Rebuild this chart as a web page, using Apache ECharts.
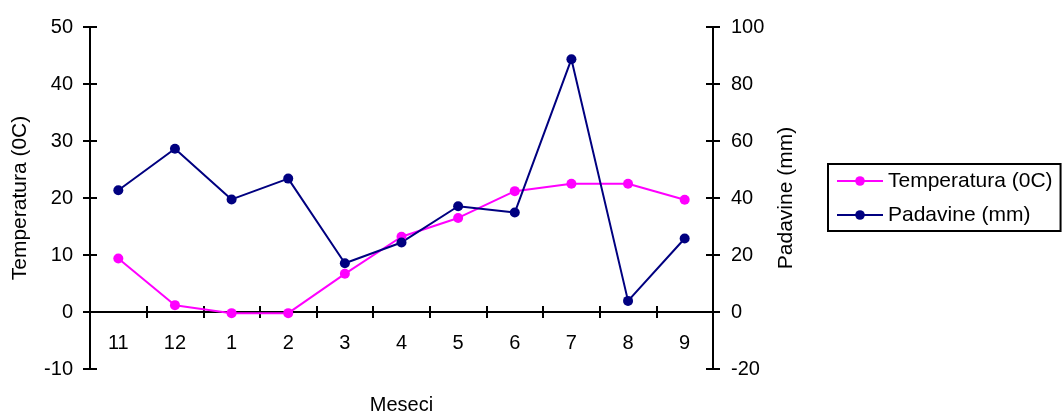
<!DOCTYPE html>
<html>
<head>
<meta charset="utf-8">
<script src="https://cdn.jsdelivr.net/npm/echarts@6/dist/echarts.min.js"></script>
<style>html,body{margin:0;padding:0;background:#fff}#c{width:1062px;height:415px}</style>
</head>
<body>
<div id="c"></div>
<script>
const categories = ['11','12','1','2','3','4','5','6','7','8','9'];
const temperature = [9.4, 1.2, -0.2, -0.2, 6.7, 13.2, 16.5, 21.2, 22.5, 22.5, 19.7];
const precipitation = [42.7, 57.3, 39.5, 46.8, 17.1, 24.4, 37.1, 34.9, 88.7, 3.9, 25.8];
const tempTicks = {min: -10, max: 50, interval: 10};
const precTicks = {min: -20, max: 100, interval: 20};

const FONT = 'Liberation Sans, Arial, sans-serif';
const black = '#000';
const axisLine = {show: true, onZero: false, lineStyle: {color: black, width: 2}};

// grid geometry
const gridTop = 27, gridBottom = 46, chartH = 415;
const plotH = chartH - gridTop - gridBottom;
// place category axis at temperature = 0
const zeroOffset = -plotH * (0 - tempTicks.min) / (tempTicks.max - tempTicks.min);

const chart = echarts.init(document.getElementById('c'));
chart.setOption({
  animation: false,
  backgroundColor: '#fff',
  textStyle: {fontFamily: FONT},
  grid: {left: 90, right: 349, top: gridTop, bottom: gridBottom, containLabel: false, outerBoundsMode: 'none'},
  legend: {
    orient: 'vertical',
    left: 828, top: 164,
    padding: [6, 8, 5, 8],
    itemGap: 12,
    itemWidth: 46, itemHeight: 12,
    borderColor: black, borderWidth: 2,
    selectedMode: false,
    textStyle: {fontFamily: FONT, fontSize: 21, color: black, lineHeight: 22},
    data: ['Temperatura (0C)', 'Padavine (mm)']
  },
  xAxis: [
    {
      type: 'category', data: categories, boundaryGap: true, position: 'bottom', offset: zeroOffset,
      axisLine: {show: true, onZero: false, lineStyle: {color: black, width: 2}},
      axisTick: {show: true, inside: false, length: 6, interval: 0, lineStyle: {color: black, width: 2}},
      axisLabel: {margin: 21, fontSize: 20, color: black, fontFamily: FONT, interval: 0},
      splitLine: {show: false},
      name: 'Meseci', nameLocation: 'middle', nameGap: 83,
      nameTextStyle: {fontSize: 20, color: black, fontFamily: FONT}
    },
    {
      type: 'category', data: categories, boundaryGap: true, position: 'bottom', offset: zeroOffset,
      axisLine: {show: true, onZero: false, lineStyle: {color: black, width: 2}},
      axisTick: {show: true, inside: true, length: 6, interval: 0, lineStyle: {color: black, width: 2}},
      axisLabel: {show: false},
      splitLine: {show: false}
    }
  ],
  yAxis: [
    {
      type: 'value', position: 'left', min: tempTicks.min, max: tempTicks.max, interval: tempTicks.interval,
      axisLine: axisLine,
      axisTick: {show: true, inside: false, length: 7, lineStyle: {color: black, width: 2}},
      axisLabel: {margin: 17, fontSize: 20, color: black, fontFamily: FONT},
      splitLine: {show: false},
      name: 'Temperatura (0C)', nameLocation: 'middle', nameGap: 59,
      nameTextStyle: {fontSize: 21, color: black, fontFamily: FONT}
    },
    {
      type: 'value', position: 'right', min: precTicks.min, max: precTicks.max, interval: precTicks.interval,
      axisLine: axisLine,
      axisTick: {show: true, inside: false, length: 7, lineStyle: {color: black, width: 2}},
      axisLabel: {margin: 18, fontSize: 20, color: black, fontFamily: FONT},
      splitLine: {show: false},
      name: 'Padavine (mm)', nameLocation: 'middle', nameGap: 63,
      nameTextStyle: {fontSize: 21, color: black, fontFamily: FONT}
    },
    {
      type: 'value', position: 'left', min: tempTicks.min, max: tempTicks.max, interval: tempTicks.interval,
      axisLine: axisLine,
      axisTick: {show: true, inside: true, length: 7, lineStyle: {color: black, width: 2}},
      axisLabel: {show: false}, splitLine: {show: false}
    },
    {
      type: 'value', position: 'right', min: precTicks.min, max: precTicks.max, interval: precTicks.interval,
      axisLine: axisLine,
      axisTick: {show: true, inside: true, length: 7, lineStyle: {color: black, width: 2}},
      axisLabel: {show: false}, splitLine: {show: false}
    }
  ],
  series: [
    {
      name: 'Temperatura (0C)', type: 'line', xAxisIndex: 0, yAxisIndex: 0,
      data: temperature, symbol: 'circle', symbolSize: 10,
      itemStyle: {color: '#FF00FF'}, lineStyle: {color: '#FF00FF', width: 2}
    },
    {
      name: 'Padavine (mm)', type: 'line', xAxisIndex: 0, yAxisIndex: 1,
      data: precipitation, symbol: 'circle', symbolSize: 10,
      itemStyle: {color: '#000080'}, lineStyle: {color: '#000080', width: 2}
    }
  ]
});
</script>
</body>
</html>
